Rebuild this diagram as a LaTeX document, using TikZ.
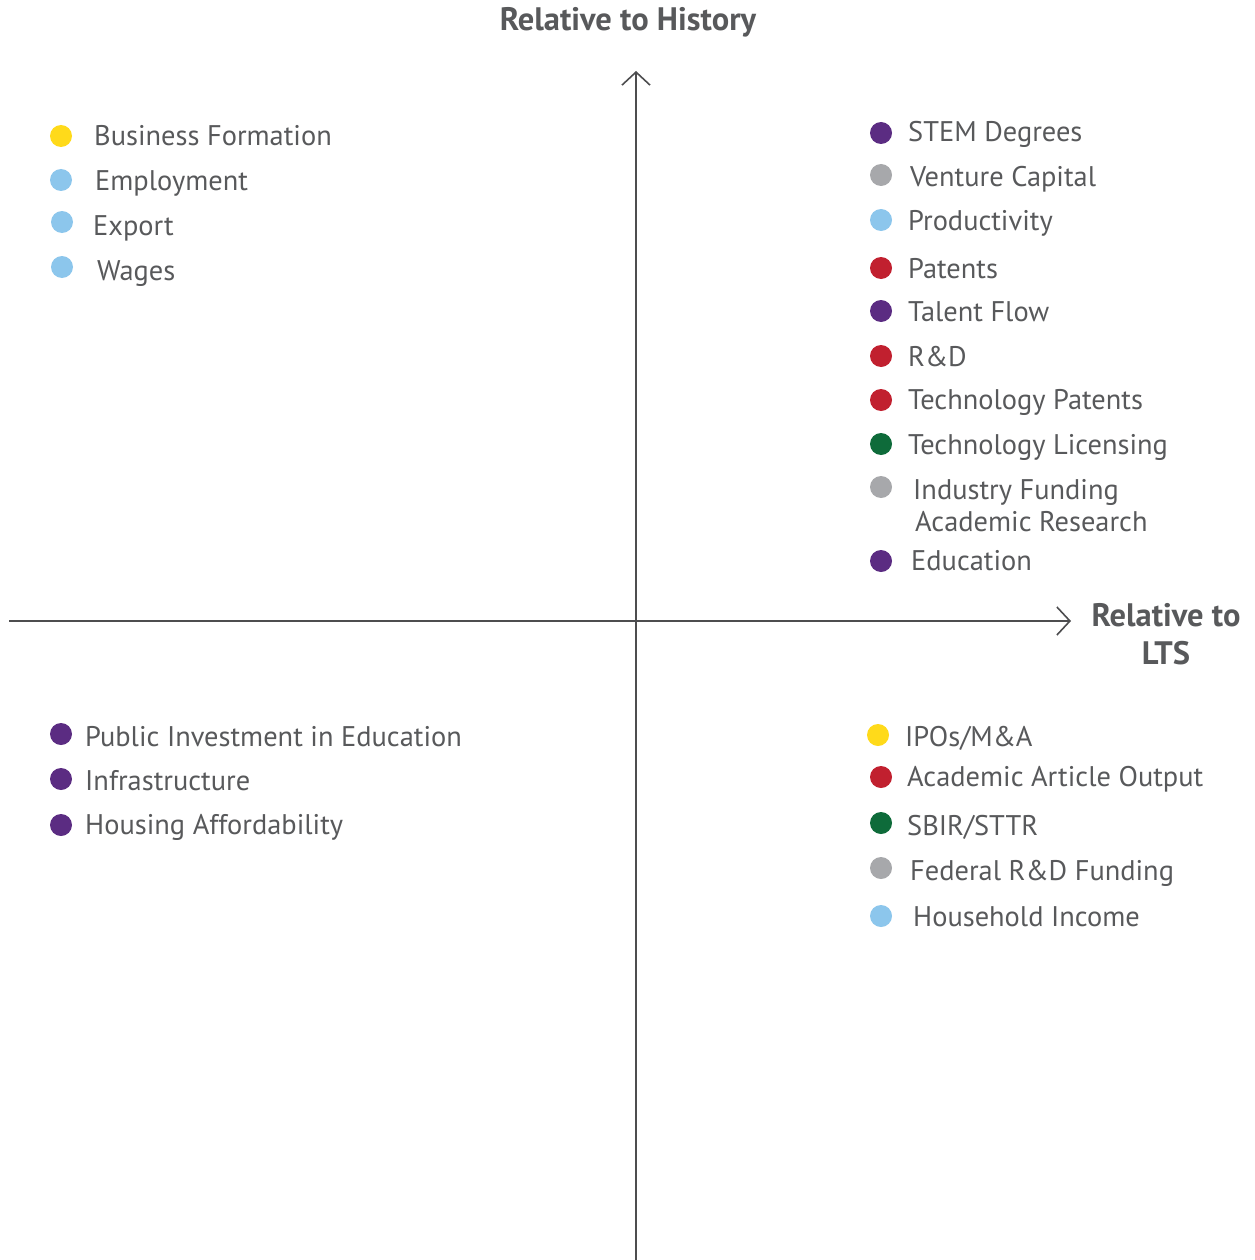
\documentclass[tikz,border=0pt]{standalone}
\usepackage{fontspec}
\setmainfont{PT Sans}
\usetikzlibrary{arrows.meta}
\definecolor{txt}{HTML}{58595B}
\definecolor{axis}{HTML}{4D4D4F}
\definecolor{cyel}{HTML}{FFDA1A}
\definecolor{cblu}{HTML}{8CC6EC}
\definecolor{cpur}{HTML}{5B2C82}
\definecolor{cgry}{HTML}{A7A8AB}
\definecolor{cred}{HTML}{C1202F}
\definecolor{cgrn}{HTML}{0E6B3A}
\begin{document}
\begin{tikzpicture}[x=1pt,y=-1pt,
  dot/.style={circle,inner sep=0pt,minimum size=22pt,draw=none},
  lab/.style={anchor=base west,inner sep=0pt,text=txt,font=\fontsize{28.4}{32}\selectfont},
  ttl/.style={inner sep=0pt,text=txt,font=\fontsize{32.5}{38}\selectfont\bfseries,align=center},
  ax/.style={draw=axis,line width=1.6pt,-{Straight Barb[length=13pt,width=28pt,line width=1.6pt]}}]
\useasboundingbox (0,0) rectangle (1254,1260);
% axes
\coordinate (vb) at (636,1260);
\coordinate (vt) at (636,71);
\coordinate (hl) at (9,621);
\coordinate (hr) at (1071,621);
\draw[ax] (vb) -- (vt);
\draw[ax] (hl) -- (hr);
% titles
\node[ttl,anchor=base] (th) at (628,31) {Relative to History};
\node[ttl,anchor=base] (tl1) at (1166,626) {Relative to};
\node[ttl,anchor=base] (tl2) at (1166,664) {LTS};
% top-left
\node[dot,fill=cyel] (a1) at (61,136) {}; \node[lab] (ta1) at (94,146) {Business Formation};
\node[dot,fill=cblu] (a2) at (61,180) {}; \node[lab] (ta2) at (95,190) {Employment};
\node[dot,fill=cblu] (a3) at (62,222) {}; \node[lab] (ta3) at (93,235) {Export};
\node[dot,fill=cblu] (a4) at (62,267) {}; \node[lab] (ta4) at (97,280) {Wages};
% top-right
\node[dot,fill=cpur] (b1) at (881,133) {}; \node[lab] (tb1) at (908,142) {STEM Degrees};
\node[dot,fill=cgry] (b2) at (881,175) {}; \node[lab] (tb2) at (910,186) {Venture Capital};
\node[dot,fill=cblu] (b3) at (881,220) {}; \node[lab] (tb3) at (908,230) {Productivity};
\node[dot,fill=cred] (b4) at (881,268) {}; \node[lab] (tb4) at (908,278) {Patents};
\node[dot,fill=cpur] (b5) at (881,311) {}; \node[lab] (tb5) at (908,321) {Talent Flow};
\node[dot,fill=cred] (b6) at (881,356) {}; \node[lab] (tb6) at (908,366) {R\&D};
\node[dot,fill=cred] (b7) at (881,400) {}; \node[lab] (tb7) at (908,409) {Technology Patents};
\node[dot,fill=cgrn] (b8) at (881,444) {}; \node[lab] (tb8) at (908,454) {Technology Licensing};
\node[dot,fill=cgry] (b9) at (881,487) {}; \node[lab] (tb9) at (913,499) {Industry Funding};
\node[lab] (tb9b) at (915,531) {Academic Research};
\node[dot,fill=cpur] (b10) at (881,561) {}; \node[lab] (tb10) at (911,570) {Education};
% bottom-left
\node[dot,fill=cpur] (c1) at (61,734) {}; \node[lab] (tc1) at (85,746) {Public Investment in Education};
\node[dot,fill=cpur] (c2) at (61,779) {}; \node[lab] (tc2) at (85,790) {Infrastructure};
\node[dot,fill=cpur] (c3) at (61,825) {}; \node[lab] (tc3) at (85,834) {Housing Affordability};
% bottom-right
\node[dot,fill=cyel] (e1) at (878,735) {}; \node[lab] (te1) at (905,746) {IPOs/M\&A};
\node[dot,fill=cred] (e2) at (881,777) {}; \node[lab] (te2) at (907,786) {Academic Article Output};
\node[dot,fill=cgrn] (e3) at (881,823) {}; \node[lab] (te3) at (907,835) {SBIR/STTR};
\node[dot,fill=cgry] (e4) at (881,868) {}; \node[lab] (te4) at (910,880) {Federal R\&D Funding};
\node[dot,fill=cblu] (e5) at (881,916) {}; \node[lab] (te5) at (913,926) {Household Income};
\end{tikzpicture}
\end{document}
